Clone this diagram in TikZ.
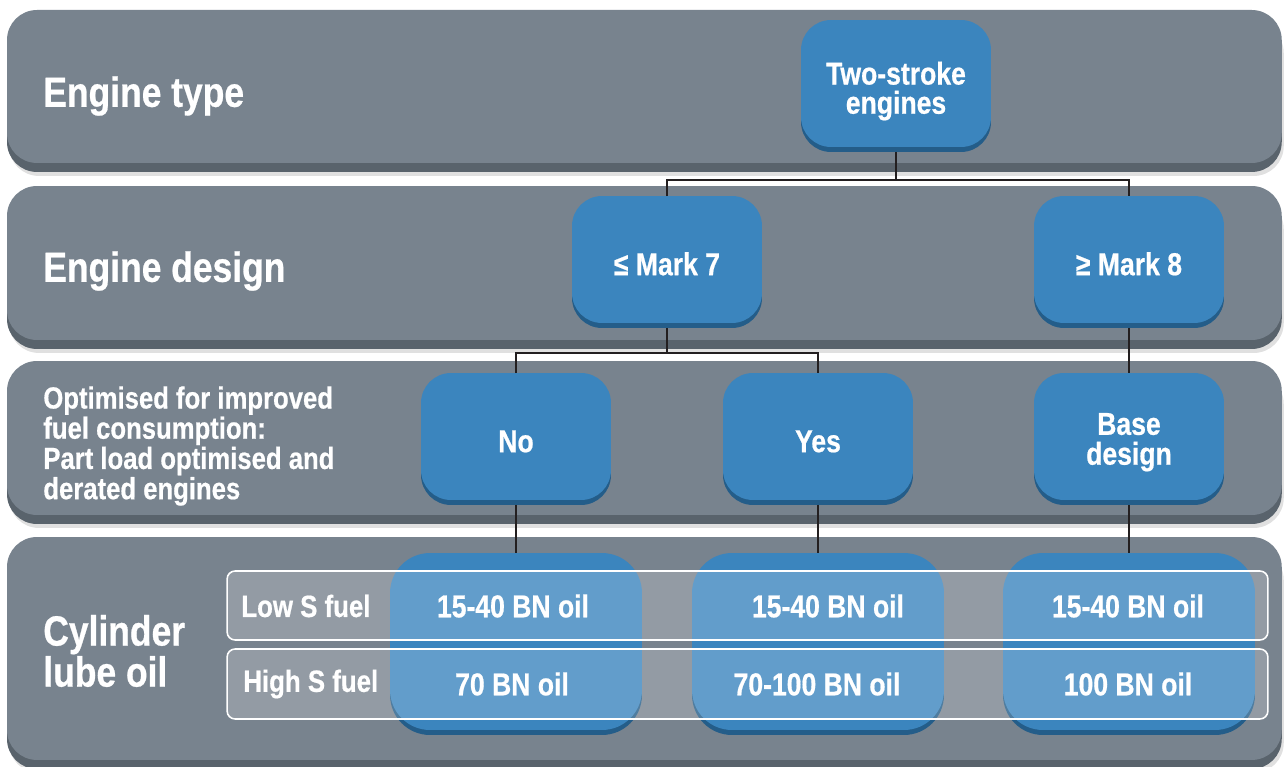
\documentclass[tikz,border=0pt]{standalone}
\usepackage{fontspec}
\setmainfont{Liberation Sans}[FakeStretch=0.84, BoldFeatures={FakeBold=0.6}]
\usetikzlibrary{shadows}
\definecolor{bandgray}{HTML}{78838E}
\definecolor{banddark}{HTML}{59636C}
\definecolor{boxblue}{HTML}{3B85BE}
\definecolor{boxdark}{HTML}{245D89}
\definecolor{linkblack}{HTML}{231F20}
\newcommand{\boxlift}[1]{\rule{0pt}{#1}}
\tikzset{
  band/.style={fill=bandgray, rounded corners=0.6cm, inner sep=0, outer sep=0,
    minimum width=25.5cm, anchor=north west,
    general shadow={shadow xshift=0.04cm, shadow yshift=-0.26cm, fill=black, opacity=0.12},
    general shadow={shadow yshift=-0.18cm, fill=banddark}},
  stagebox/.style={fill=boxblue, rounded corners=0.6cm, inner sep=0, outer sep=0,
    minimum width=3.8cm, minimum height=2.54cm, text=white, align=center,
    font=\bfseries\fontsize{18}{16.6}\selectfont,
    execute at begin node={\boxlift{1em}},
    general shadow={shadow yshift=-0.1cm, fill=boxdark}},
  oilbox/.style={stagebox, rounded corners=0.8cm, minimum width=5.04cm, minimum height=3.54cm},
  oilrow/.style={draw=white, line width=0.9pt, fill=white, fill opacity=0.2,
    rounded corners=0.16cm, minimum width=20.82cm, inner sep=0, outer sep=0},
  headline/.style={anchor=west, text=white, align=left, inner sep=0,
    font=\bfseries\fontsize{24}{20.5}\selectfont},
  subline/.style={headline, font=\bfseries\fontsize{17.4}{17.2}\selectfont},
  rowtext/.style={text=white, inner sep=0, font=\bfseries\fontsize{18}{16}\selectfont},
  link/.style={draw=linkblack, line width=1.1pt}
}
\begin{document}
\begin{tikzpicture}[x=0.02cm, y=-0.02cm]
  \useasboundingbox (0,0) rectangle (1285,767);
  \node[band, minimum height=3.06cm] (typeband) at (7,10) {};
  \node[band, minimum height=3.08cm] (designband) at (7,186) {};
  \node[band, minimum height=3.08cm] (optband) at (7,361) {};
  \node[band, minimum height=4.46cm] (oilband) at (7,537) {};

  \node[headline] (typelbl) at (43,96) {Engine type};
  \node[headline] (designlbl) at (43,271) {Engine design};
  \node[subline] (optlbl) at (43,446) {Optimised for improved\\fuel consumption:\\Part load optimised and\\derated engines};
  \node[headline] (cyllbl) at (43,651) {Cylinder\\lube oil};

  \node[stagebox] (two) at (896,83.5) {\boxlift{1.2em}Two-stroke\\engines};
  \node[stagebox] (m7) at (667,259.5) {≤ Mark 7};
  \node[stagebox] (m8) at (1129,259.5) {≥ Mark 8};
  \node[stagebox] (no) at (516,436.5) {No};
  \node[stagebox] (yes) at (818,436.5) {Yes};
  \node[stagebox, font=\bfseries\fontsize{18}{17}\selectfont] (base) at (1129,436.5) {\boxlift{1.05em}Base\\design};

  \node[oilbox] (oilno) at (516,641.5) {};
  \node[oilbox] (oilyes) at (818,641.5) {};
  \node[oilbox] (oilbase) at (1129,641.5) {};

  \node[oilrow, minimum height=1.38cm] (lowrow) at (747.5,605.5) {};
  \node[oilrow, minimum height=1.4cm] (highrow) at (747.5,684) {};

  \node[rowtext, anchor=west, font=\bfseries\fontsize{17.5}{16}\selectfont] (lowlbl) at (241,606) {Low S fuel};
  \node[rowtext, anchor=west, font=\bfseries\fontsize{17.5}{16}\selectfont] (highlbl) at (243,684) {High S fuel};
  \node[rowtext] (lowno) at (513,606) {15-40 BN oil};
  \node[rowtext] (lowyes) at (828,606) {15-40 BN oil};
  \node[rowtext] (lowbase) at (1128,606) {15-40 BN oil};
  \node[rowtext] (highno) at (512,684) {70 BN oil};
  \node[rowtext] (highyes) at (817,684) {70-100 BN oil};
  \node[rowtext] (highbase) at (1128,684) {100 BN oil};

  \coordinate (split1) at (896,180);
  \coordinate (split2) at (667,353);
  \draw[link] ([yshift=-0.1cm]two.south) -- (split1);
  \draw[link] (m7.north) |- (split1) -| (m8.north);
  \draw[link] ([yshift=-0.1cm]m7.south) -- (split2);
  \draw[link] (no.north) |- (split2) -| (yes.north);
  \draw[link] ([yshift=-0.1cm]m8.south) -- (base.north);
  \draw[link] ([yshift=-0.1cm]no.south) -- (oilno.north);
  \draw[link] ([yshift=-0.1cm]yes.south) -- (oilyes.north);
  \draw[link] ([yshift=-0.1cm]base.south) -- (oilbase.north);
\end{tikzpicture}
\end{document}
